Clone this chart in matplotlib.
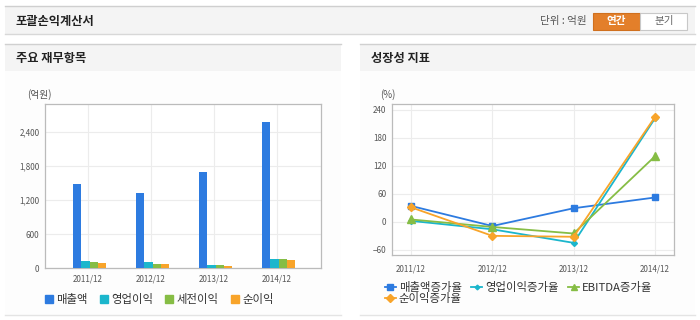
import numpy as np
import matplotlib
matplotlib.use("Agg")
import matplotlib.pyplot as plt
from matplotlib.patches import Rectangle
from matplotlib.lines import Line2D
from matplotlib.ticker import FuncFormatter

plt.rcParams['font.family'] = ['Noto Sans CJK KR', 'DejaVu Sans']

# data
years = ['2011/12', '2012/12', '2013/12', '2014/12']

# 주요 재무항목 (억원)
sales = [1480, 1330, 1700, 2580]
op_income = [126, 100, 45, 166]
pretax_income = [106, 66, 45, 165]
net_income = [88, 66, 30, 136]
bar_names = ['매출액', '영업이익', '세전이익', '순이익']

# 성장성 지표 (%)
sales_growth = [34, -9, 29, 52]
op_growth = [2, -16, -45, 221]
ebitda_growth = [5, -11, -25, 140]
net_growth = [31, -30, -32, 224]
line_names = ['매출액증가율', '영업이익증가율', 'EBITDA증가율', '순이익증가율']

BLUE = '#2d7be0'
CYAN = '#1bb6cc'
GREEN = '#86bd45'
ORANGE = '#f8a42a'
W, H = 700, 320


def rect(x0, y0, x1, y1):
    # pixel box (top-left origin) -> figure fraction
    return [x0 / W, 1 - y1 / H, (x1 - x0) / W, (y1 - y0) / H]


def box(fig, x0, y0, x1, y1, z=-10, **kw):
    fig.patches.append(Rectangle((x0 / W, 1 - y1 / H), (x1 - x0) / W, (y1 - y0) / H,
                                 transform=fig.transFigure, zorder=z, **kw))


def hline(fig, x0, x1, y, color, lw=1.0):
    fig.add_artist(Line2D([x0 / W, x1 / W], [1 - y / H, 1 - y / H],
                          transform=fig.transFigure, color=color, lw=lw, zorder=-5))


fig = plt.figure(figsize=(7, 3.2), dpi=100)

# top header band
box(fig, 5, 6, 695, 34, facecolor='#f4f4f4', edgecolor='none')
hline(fig, 5, 695, 6, '#cfcfcf')
hline(fig, 5, 695, 34, '#d8d8d8')
fig.text(16 / W, 1 - 21 / H, '포괄손익계산서', fontsize=8.8, fontweight='bold',
         color='#222222', va='center', ha='left')
fig.text(587 / W, 1 - 21 / H, '단위 : 억원', fontsize=7.6, color='#555555',
         va='center', ha='right')
box(fig, 593, 12.5, 640, 29.5, z=2, facecolor='#e37f2a', edgecolor='#d0701e', lw=0.8)
box(fig, 640, 12.5, 687, 29.5, z=2, facecolor='white', edgecolor='#c8c8c8', lw=0.8)
fig.text(616 / W, 1 - 21 / H, '연간', fontsize=7.6, fontweight='bold', color='white',
         va='center', ha='center', zorder=5)
fig.text(664 / W, 1 - 21 / H, '분기', fontsize=7.6, color='#666666',
         va='center', ha='center', zorder=5)

# panels
for (px0, px1, title) in [(5, 341, '주요 재무항목'), (360, 695, '성장성 지표')]:
    box(fig, px0, 44, px1, 71, facecolor='#f4f4f4', edgecolor='none')
    box(fig, px0, 71, px1, 315, facecolor='#fdfdfd', edgecolor='none')
    hline(fig, px0, px1, 44, '#d0d0d0')
    hline(fig, px0, px1, 315, '#e4e4e4')
    fig.text((px0 + 11) / W, 1 - 58.5 / H, title, fontsize=8.8, fontweight='bold',
             color='#222222', va='center', ha='left')


def style_axes(ax):
    ax.set_facecolor('white')
    for s in ax.spines.values():
        s.set_color('#bbbbbb')
        s.set_linewidth(0.9)
    ax.grid(True, color='#ececec', lw=0.8)
    ax.set_axisbelow(True)
    ax.tick_params(length=0, labelsize=5.8, labelcolor='#555555')


# left: bar chart
ax1 = fig.add_axes(rect(45, 104, 321, 268))
style_axes(ax1)
x = np.arange(len(years))
bw = 0.132
bar_series = [sales, op_income, pretax_income, net_income]
bar_colors = [BLUE, CYAN, GREEN, ORANGE]
for k, (vals, c) in enumerate(zip(bar_series, bar_colors)):
    ax1.bar(x - 0.17 + k * bw, vals, width=bw, color=c, align='center',
            edgecolor='none', zorder=3)
ax1.set_xlim(-0.683, 3.698)
ax1.set_ylim(0, 2900)
ax1.set_xticks(x)
ax1.set_xticklabels(years)
ax1.set_yticks([0, 600, 1200, 1800, 2400])
ax1.yaxis.set_major_formatter(FuncFormatter(lambda v, p: f'{int(v):,}'))
ax1.tick_params(axis='x', pad=5)
ax1.tick_params(axis='y', pad=4)
fig.text(27 / W, 1 - 95 / H, '(억원)', fontsize=7, color='#555555', va='center')

handles1 = [Line2D([], [], marker='s', ls='none', color=c, markersize=6)
            for c in bar_colors]
fig.legend(handles1, bar_names, loc='center left', bbox_to_anchor=(40 / W, 1 - 299 / H),
           ncol=4, frameon=False, fontsize=8.2, handlelength=0.6, handletextpad=0.35,
           columnspacing=1.1, borderpad=0, labelcolor='#333333')

# right: line chart
ax2 = fig.add_axes(rect(392, 104, 674, 255))
style_axes(ax2)
line_series = [
    (sales_growth, BLUE, 's', 5),
    (op_growth, CYAN, 'D', 3),
    (ebitda_growth, GREEN, '^', 6),
    (net_growth, ORANGE, 'D', 4.5),
]
lines = []
for vals, c, m, ms in line_series:
    ln, = ax2.plot(x, vals, color=c, marker=m, markersize=ms, lw=1.3, zorder=3)
    lines.append(ln)
ax2.set_xlim(-0.234, 3.235)
ax2.set_ylim(-71, 252)
ax2.set_xticks(x)
ax2.set_xticklabels(years)
ax2.set_yticks([-60, 0, 60, 120, 180, 240])
ax2.tick_params(axis='x', pad=7)
ax2.tick_params(axis='y', pad=4)
fig.text(380 / W, 1 - 95 / H, '(%)', fontsize=7, color='#555555', va='center')

order = [0, 3, 1, 2]
fig.legend([lines[i] for i in order], [line_names[i] for i in order],
           loc='upper left', bbox_to_anchor=(379 / W, 1 - 276 / H), ncol=3,
           frameon=False, fontsize=8.2, handlelength=1.0, handletextpad=0.25,
           columnspacing=0.8, borderpad=0, labelspacing=0.0, labelcolor='#333333',
           markerscale=0.8)

fig.savefig('out.png', dpi=100, facecolor='white')
